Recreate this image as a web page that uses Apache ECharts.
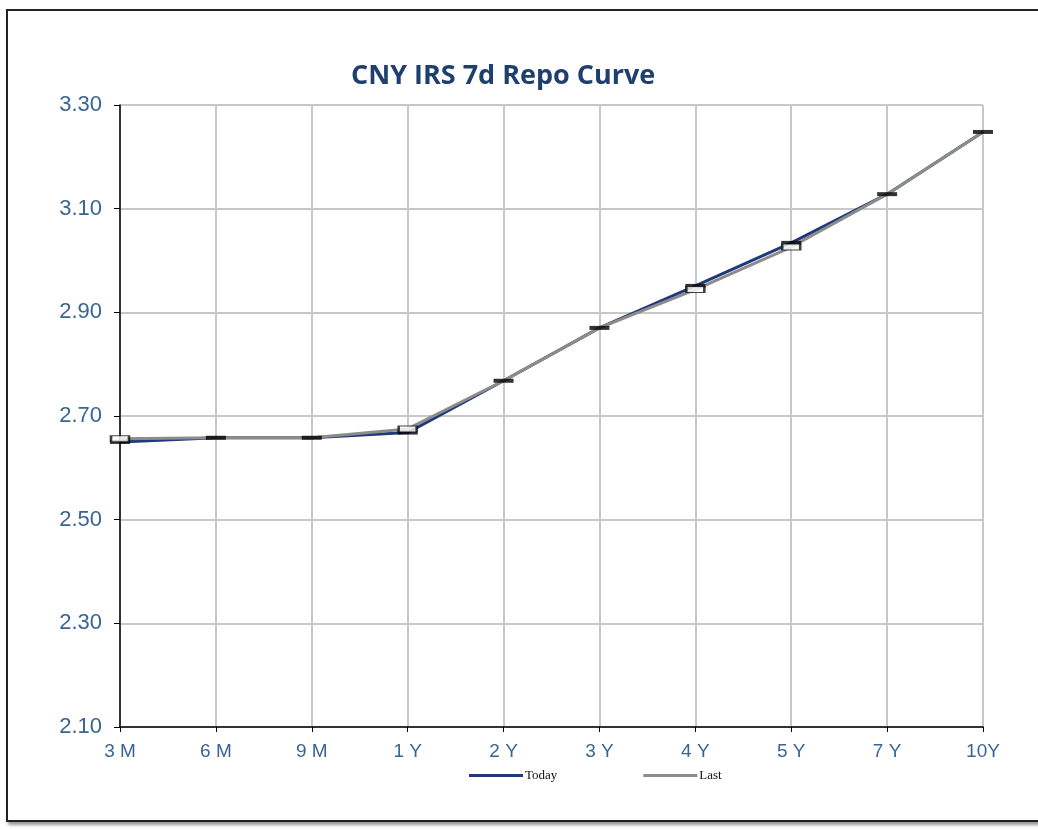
<!DOCTYPE html>
<html>
<head>
<meta charset="utf-8">
<script src="https://cdn.jsdelivr.net/npm/echarts@6/dist/echarts.min.js"></script>
<style>
  html, body { margin: 0; padding: 0; background: #fff; width: 1038px; height: 829px; overflow: hidden; }
  #frame { position: absolute; left: 6px; top: 9px; width: 1060px; height: 809px; border: 2px solid #222; box-shadow: 2px 3px 3px #999; background: #fff; }
  #chart { position: absolute; left: 0; top: 0; width: 1038px; height: 829px; }
</style>
</head>
<body>
<div id="frame"></div>
<div id="chart"></div>
<script>
const categories = ['3 M', '6 M', '9 M', '1 Y', '2 Y', '3 Y', '4 Y', '5 Y', '7 Y', '10Y'];
const todayValues = [2.650, 2.658, 2.658, 2.668, 2.768, 2.870, 2.951, 3.034, 3.128, 3.248];
const lastValues  = [2.656, 2.658, 2.658, 2.675, 2.768, 2.870, 2.944, 3.026, 3.128, 3.248];
const seriesNames = ['Today', 'Last'];

const chart = echarts.init(document.getElementById('chart'));
const lastMarkers = lastValues.map((v, i) => (v === todayValues[i] ? { value: v, symbol: 'none' } : v));

chart.setOption({
  animation: false,
  backgroundColor: 'transparent',
  title: {
    text: 'CNY IRS 7d Repo Curve',
    left: 346, top: 58,
    textStyle: { fontFamily: 'Open Sans', fontWeight: 'bold', fontSize: 27, color: '#1F3F6E' }
  },
  grid: { left: 120, right: 55, top: 105, bottom: 102, containLabel: false },
  legend: {
    left: 464, top: 764,
    icon: 'rect', itemWidth: 54, itemHeight: 3, itemGap: 86,
    textStyle: { fontFamily: 'Liberation Serif', fontSize: 13, color: '#111', padding: [0, 0, 0, -3] },
    data: [
      { name: seriesNames[0], itemStyle: { color: '#1F3A7A', borderWidth: 0 } },
      { name: seriesNames[1], itemStyle: { color: '#8C8C8C', borderWidth: 0 } }
    ]
  },
  xAxis: {
    type: 'category', data: categories, boundaryGap: false,
    axisLine: { lineStyle: { color: '#000', width: 1.5 } },
    axisTick: { show: true, length: 5, lineStyle: { color: '#000' } },
    axisLabel: { fontFamily: 'Liberation Sans', fontSize: 19, color: '#3A6592', margin: 15 },
    splitLine: { show: true, lineStyle: { color: '#C8C8C8', width: 2 } }
  },
  yAxis: {
    type: 'value', min: 2.10, max: 3.30, interval: 0.20,
    axisLine: { show: true, lineStyle: { color: '#000', width: 1.5 } },
    axisTick: { show: true, length: 6, lineStyle: { color: '#000' } },
    axisLabel: { fontFamily: 'Liberation Sans', fontSize: 22, color: '#3A6592', margin: 18, formatter: v => v.toFixed(2) },
    splitLine: { show: true, lineStyle: { color: '#C8C8C8', width: 2 } }
  },
  series: [
    {
      name: seriesNames[0], type: 'line', data: todayValues, symbol: 'none',
      lineStyle: { color: '#1F3A7A', width: 3 }, itemStyle: { color: '#1F3A7A' }, z: 2
    },
    {
      name: seriesNames[1], type: 'line', data: lastValues, symbol: 'none',
      lineStyle: { color: '#8C8C8C', width: 3 }, itemStyle: { color: '#8C8C8C' }, z: 3
    },
    {
      name: 'todayMarkers', type: 'scatter', data: todayValues,
      symbol: 'rect', symbolSize: [20, 4], itemStyle: { color: '#000' }, z: 4
    },
    {
      name: 'lastMarkers', type: 'scatter', data: lastMarkers,
      symbol: 'rect', symbolSize: [18, 6],
      itemStyle: { color: '#fff', borderColor: '#111', borderWidth: 1.5 }, z: 5
    }
  ]
});
</script>
</body>
</html>
